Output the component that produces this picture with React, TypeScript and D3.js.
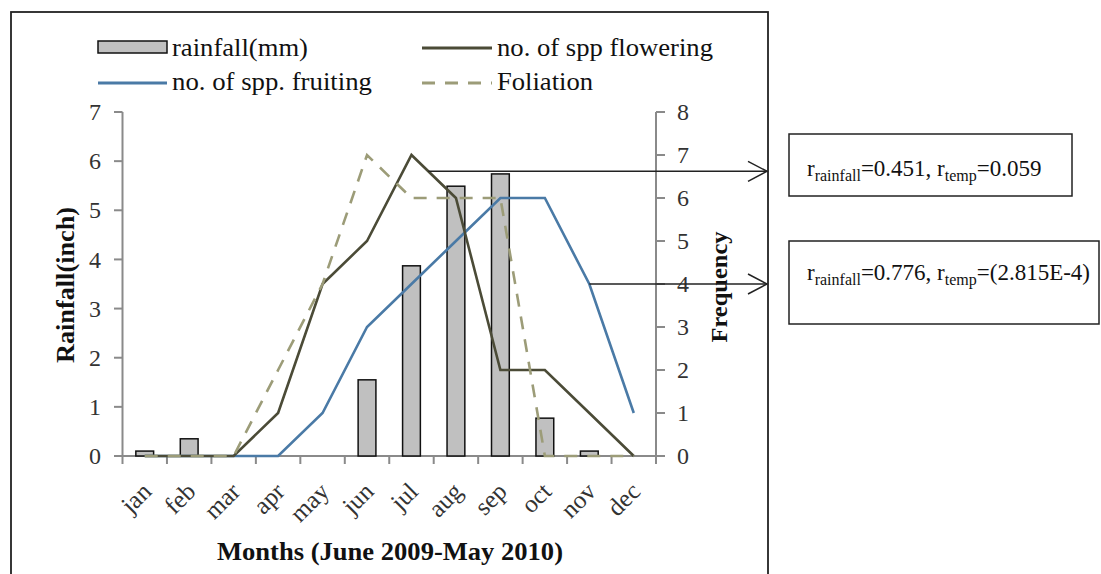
import React from "react";
import * as d3 from "d3";

const months = ["jan", "feb", "mar", "apr", "may", "jun", "jul", "aug", "sep", "oct", "nov", "dec"];
const rainfall = [0.1, 0.35, 0, 0, 0, 1.55, 3.87, 5.49, 5.74, 0.77, 0.1, 0];
const flowering = [0, 0, 0, 1, 4, 5, 7, 6, 2, 2, 1, 0];
const fruiting = [0, 0, 0, 0, 1, 3, 4, 5, 6, 6, 4, 1];
const foliation = [0, 0, 0, 2, 4, 7, 6, 6, 6, 0, 0, 0];
const leftTicks = [0, 1, 2, 3, 4, 5, 6, 7];
const rightTicks = [0, 1, 2, 3, 4, 5, 6, 7, 8];

const W = 1101;
const H = 574;
const FONT = "Liberation Serif, Times New Roman, DejaVu Serif, serif";
const AXIS = "#8a8a8a";
const C_FLOW = "#4b4b37";
const C_FRUIT = "#4a7aa6";
const C_FOL = "#9c9c78";

export default function App() {
  const x = d3.scaleBand<string>().domain(months).range([122.5, 656]).paddingInner(0).paddingOuter(0);
  const bw = x.bandwidth();
  const cx = (m: string) => (x(m) as number) + bw / 2;
  const yL = d3.scaleLinear().domain([0, 7]).range([456, 112]);
  const yR = d3.scaleLinear().domain([0, 8]).range([456, 112]);

  const line = (vals: number[]) =>
    d3.line<number>().x((_, i) => cx(months[i])).y((v) => yR(v))(vals) as string;

  const barW = bw * 0.4;

  const a1v = 6.62;
  const a1x = cx("jul") + ((7 - a1v) / (7 - 6)) * bw;
  const a1y = yR(a1v);
  const a2x = cx("nov");
  const a2y = yR(fruiting[10]);
  const tipX = 767;

  const arrow = (x1: number, y: number) => (
    <g stroke="#222" strokeWidth={1.5} fill="none">
      <line x1={x1} y1={y} x2={tipX} y2={y} />
      <polyline points={`${tipX - 19},${y - 10} ${tipX},${y} ${tipX - 19},${y + 10}`} />
    </g>
  );

  const ticksX = d3.range(months.length + 1).map((i) => 122.5 + i * bw);
  const tf = { fontFamily: FONT } as React.CSSProperties;

  return (
    <svg width={W} height={H} style={{ position: "absolute", left: 0, top: 0, background: "#fff", fontFamily: FONT }}>
      <rect x={0} y={0} width={W} height={H} fill="#fff" />
      <rect x={11} y={12} width={757} height={620} fill="none" stroke="#222" strokeWidth={1.8} />

      {/* legend */}
      <g fontSize={26} fill="#111" style={tf}>
        <rect x={98} y={41} width={69} height={12} fill="#c0c0c0" stroke="#111" strokeWidth={1.5} />
        <text x={172} y={56} textLength={136} lengthAdjust="spacingAndGlyphs" style={tf}>rainfall(mm)</text>
        <line x1={422} y1={48} x2={492} y2={48} stroke={C_FLOW} strokeWidth={3} />
        <text x={497} y={56} textLength={216} lengthAdjust="spacingAndGlyphs" style={tf}>no. of spp flowering</text>
        <line x1={98} y1={83} x2={167} y2={83} stroke={C_FRUIT} strokeWidth={3} />
        <text x={172} y={90} textLength={200} lengthAdjust="spacingAndGlyphs" style={tf}>no. of spp. fruiting</text>
        <line x1={422} y1={83} x2={492} y2={83} stroke={C_FOL} strokeWidth={3} strokeDasharray="13,10" />
        <text x={497} y={90} textLength={96} lengthAdjust="spacingAndGlyphs" style={tf}>Foliation</text>
      </g>

      {/* axes */}
      <g stroke={AXIS} strokeWidth={2}>
        <line x1={122.5} y1={yL(7)} x2={122.5} y2={yL(0)} />
        <line x1={656} y1={yR(8)} x2={656} y2={yR(0)} />
        <line x1={114} y1={456} x2={665} y2={456} />
        {leftTicks.map((t) => (
          <line key={"lt" + t} x1={114} x2={122.5} y1={yL(t)} y2={yL(t)} />
        ))}
        {rightTicks.map((t) => (
          <line key={"rt" + t} x1={656} x2={665} y1={yR(t)} y2={yR(t)} />
        ))}
        {ticksX.map((t, i) => (
          <line key={"xt" + i} x1={t} x2={t} y1={456} y2={464} />
        ))}
      </g>

      {/* tick labels */}
      <g fontSize={24} fill="#333" style={tf}>
        {leftTicks.map((t) => (
          <text key={"ll" + t} x={101} y={yL(t)} dy="0.34em" textAnchor="end" style={tf}>{t}</text>
        ))}
        {rightTicks.map((t) => (
          <text key={"rl" + t} x={677} y={yR(t)} dy="0.34em" textAnchor="start" style={tf}>{t}</text>
        ))}
        {months.map((m) => (
          <text key={"ml" + m} transform={`translate(${cx(m) + 8},${493}) rotate(-45)`} textAnchor="end" fontSize={25} style={tf}>{m}</text>
        ))}
      </g>

      {/* axis titles */}
      <text transform={`translate(74,285) rotate(-90)`} textAnchor="middle" fontWeight="bold" fontSize={26} fill="#111" textLength={156} lengthAdjust="spacingAndGlyphs" style={tf}>Rainfall(inch)</text>
      <text transform={`translate(727,287) rotate(-90)`} textAnchor="middle" fontWeight="bold" fontSize={24} fill="#111" textLength={111} lengthAdjust="spacingAndGlyphs" style={tf}>Frequency</text>
      <text x={390} y={560} textAnchor="middle" fontWeight="bold" fontSize={26} fill="#111" textLength={346} lengthAdjust="spacingAndGlyphs" style={tf}>Months (June 2009-May 2010)</text>

      {/* bars */}
      <g fill="#c0c0c0" stroke="#111" strokeWidth={1.5}>
        {months.map((m, i) =>
          rainfall[i] > 0 ? (
            <rect key={"b" + m} x={cx(m) - barW / 2} y={yL(rainfall[i])} width={barW} height={yL(0) - yL(rainfall[i])} />
          ) : null
        )}
      </g>

      {/* lines */}
      <path d={line(fruiting)} fill="none" stroke={C_FRUIT} strokeWidth={2.6} />
      <path d={line(flowering)} fill="none" stroke={C_FLOW} strokeWidth={2.6} />
      <path d={line(foliation)} fill="none" stroke={C_FOL} strokeWidth={2.6} strokeDasharray="13,10" />

      {/* annotations */}
      {arrow(a1x, a1y)}
      {arrow(a2x, a2y)}

      <g stroke="#222" strokeWidth={1.5} fill="#fff">
        <rect x={789} y={134} width={283} height={62} />
        <rect x={789} y={241} width={310} height={83} />
      </g>
      <g fill="#111" fontSize={23} style={tf}>
        <text x={807} y={176} style={tf}>
          r<tspan fontSize={16} dy={5}>rainfall</tspan><tspan dy={-5}>=0.451, r</tspan><tspan fontSize={16} dy={5}>temp</tspan><tspan dy={-5}>=0.059</tspan>
        </text>
        <text x={807} y={280} style={tf}>
          r<tspan fontSize={16} dy={5}>rainfall</tspan><tspan dy={-5}>=0.776, r</tspan><tspan fontSize={16} dy={5}>temp</tspan><tspan dy={-5}>=(2.815E-4)</tspan>
        </text>
      </g>
    </svg>
  );
}
